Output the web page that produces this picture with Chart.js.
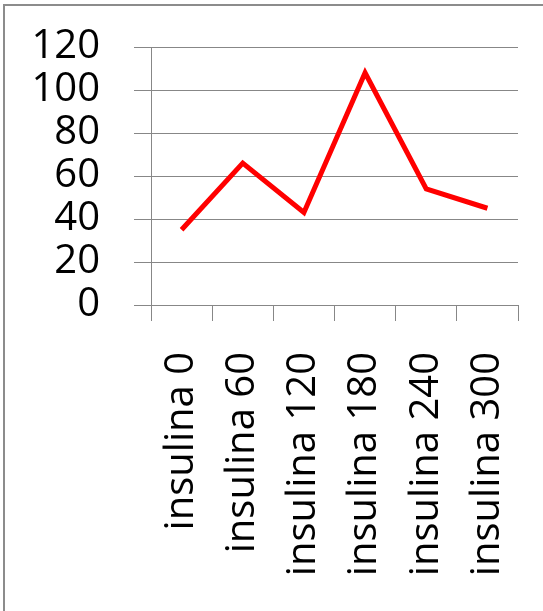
<!DOCTYPE html>
<html>
<head>
<meta charset="utf-8">
<script src="https://cdn.jsdelivr.net/npm/chart.js@4/dist/chart.umd.min.js"></script>
<style>
  html, body { margin: 0; padding: 0; background: #fff; }
  #frame {
    position: absolute; left: 3px; top: 4px; width: 540px; height: 607px;
    border-top: 2px solid #8c8c8c; border-left: 2px solid #8c8c8c;
    box-sizing: border-box;
  }
  #wrap { position: absolute; left: 0; top: 0; width: 543px; height: 611px; }
</style>
</head>
<body>
<div id="frame"></div>
<div id="wrap"><canvas id="c" width="543" height="611"></canvas></div>
<script>
const categories = ['insulina 0', 'insulina 60', 'insulina 120', 'insulina 180', 'insulina 240', 'insulina 300'];
const values = [35, 66, 43, 108, 54, 45];
const yTicks = [0, 20, 40, 60, 80, 100, 120];

const gridGrey = '#878787';
const labelFont = { family: '"Open Sans", sans-serif', size: 40 };

new Chart(document.getElementById('c'), {
  type: 'line',
  data: {
    labels: categories,
    datasets: [{
      data: values,
      borderColor: '#ff0000',
      borderWidth: 5,
      pointRadius: 0,
      tension: 0,
      fill: false
    }]
  },
  options: {
    responsive: false,
    animation: false,
    devicePixelRatio: 1,
    layout: { padding: { left: 0, top: 47, right: 25, bottom: 0 } },
    plugins: { legend: { display: false }, tooltip: { enabled: false } },
    scales: {
      x: {
        offset: true,
        grid: { display: true, offset: true, drawOnChartArea: false, color: gridGrey, tickLength: 16, lineWidth: 1 },
        border: { display: true, color: gridGrey },
        ticks: {
          color: '#000', font: labelFont, padding: 31,
          maxRotation: 90, minRotation: 90, autoSkip: false
        },
        afterFit(scale) { scale.height = 306; scale.paddingLeft = 0; scale.paddingRight = 0; }
      },
      y: {
        min: 0, max: 120,
        afterBuildTicks(scale) { scale.ticks = yTicks.map(v => ({ value: v })); },
        grid: { color: gridGrey, tickLength: 17, lineWidth: 1 },
        border: { display: true, color: gridGrey },
        ticks: { color: '#000', font: labelFont, padding: 34, autoSkip: false },
        afterFit(scale) { scale.width = 151; scale.paddingTop = 0; scale.paddingBottom = 0; }
      }
    }
  }
});
</script>
</body>
</html>
